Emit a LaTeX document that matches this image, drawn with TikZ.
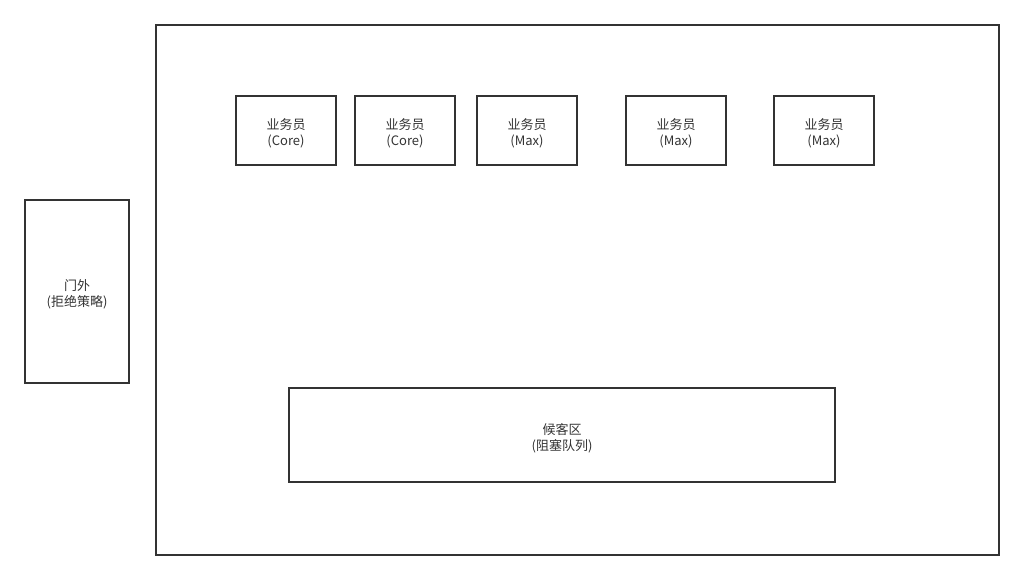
\documentclass[tikz,border=0pt]{standalone}
\usepackage{fontspec}
\setmainfont{Noto Sans CJK SC}
\begin{document}
\begin{tikzpicture}[x=1pt,y=-1pt,
  box/.style={draw=black!80,line width=1.6pt},
  lbl/.style={text=black!80,font=\fontsize{13}{16}\selectfont,align=center,inner sep=0pt}]
\useasboundingbox[fill=white] (0,0) rectangle (1024,581);
\draw[box] (156,25) rectangle (999,555);
\draw[box] (25,200) rectangle (129,383);
\node[lbl] (door) at (77,294) {门外\\(拒绝策略)};
\foreach \n/\x/\t in {w1/236/Core,w2/355/Core,w3/477/Max,w4/626/Max,w5/774/Max}{
  \draw[box] (\x,96) rectangle ++(100,69);
  \node[lbl] (\n) at (\x+50,133) {业务员\\(\t)};
}
\draw[box] (289,388) rectangle (835,482);
\node[lbl] (wait) at (562,438) {候客区\\(阻塞队列)};
\end{tikzpicture}
\end{document}
